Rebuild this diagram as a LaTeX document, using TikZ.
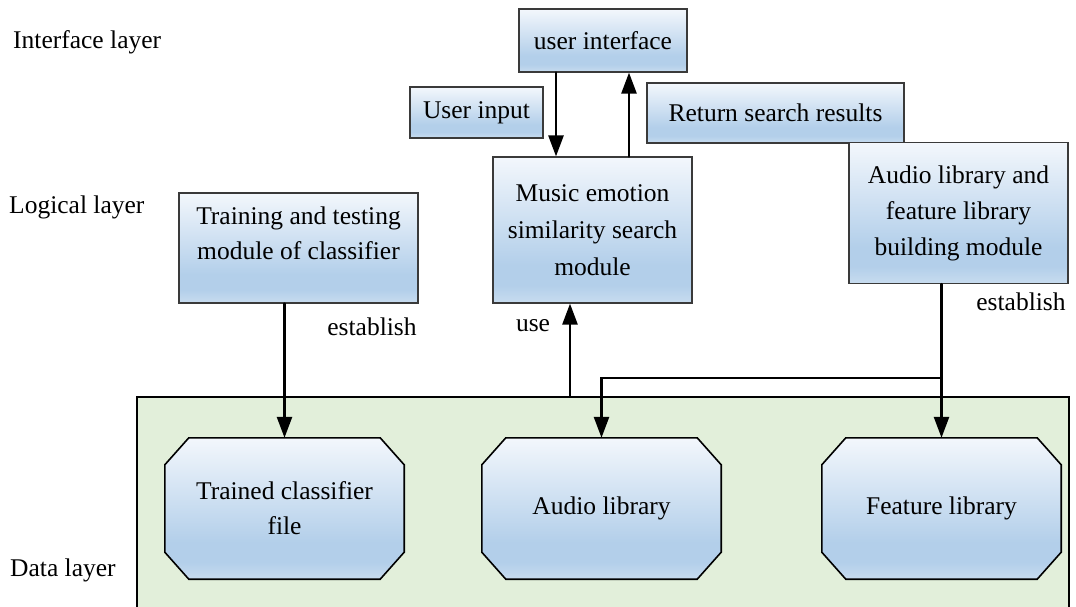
\documentclass[tikz,border=0pt]{standalone}
\usepackage{fontspec}
\setmainfont{Liberation Serif}
\usetikzlibrary{arrows.meta,calc,backgrounds}

\definecolor{boxtop}{HTML}{F3F7FC}
\definecolor{boxblue}{HTML}{B3CFEA}
\definecolor{boxlow}{HTML}{C8DCEF}
\definecolor{datagreen}{HTML}{E2EFDA}
\definecolor{edgegray}{HTML}{3A3A3A}

% light-to-blue vertical gradient used by every module box
\pgfdeclareverticalshading{modshade}{100bp}{%
  color(0bp)=(boxlow); color(25bp)=(boxlow); color(31bp)=(boxblue);
  color(38bp)=(boxblue); color(75bp)=(boxtop); color(100bp)=(boxtop)}

\tikzset{
  lbl/.style={font=\fontsize{25.5}{35}\selectfont, inner sep=0pt},
  mod/.style={draw=edgegray, line width=1.2pt, shading=modshade,
    font=\fontsize{25.5}{35}\selectfont, align=center, inner sep=2pt},
  store/.style={font=\fontsize{25.5}{35}\selectfont, align=center,
    minimum width=239pt, minimum height=141pt, inner sep=0pt},
  octfill/.style={draw=black, line width=1.6pt, shading=modshade},
  arr/.style={line width=2.6pt, line cap=round,
    -{Triangle[width=15pt,length=21pt]}},
}

\begin{document}
\begin{tikzpicture}[x=1pt,y=-1pt]
\useasboundingbox (0,0) rectangle (1076,606);

% layer captions
\node[lbl, anchor=base west] (capI) at (13,48) {Interface layer};
\node[lbl, anchor=base west] (capL) at (9,213) {Logical layer};
\node[lbl, anchor=base west] (capD) at (10,576) {Data layer};

% interface and logical modules
\node[mod, minimum width=168pt, minimum height=63pt] (ui) at (603,40.5) {user interface};
\node[mod, minimum width=133pt, minimum height=51pt] (uin) at (476.5,112.5) {User input};
\node[mod, minimum width=257pt, minimum height=60pt] (ret) at (775.5,113) {Return search results};
\node[mod, minimum width=199pt, minimum height=146pt,
  font=\fontsize{25.5}{37}\selectfont] (mus) at (592.5,230)
  {Music emotion\\similarity search\\module};
\node[mod, minimum width=239pt, minimum height=110pt] (trn) at (298.5,248) {};
\node[lbl, align=center] (trntext) at (298.5,233)
  {Training and testing\\module of classifier};
\node[mod, minimum width=219pt, minimum height=141pt,
  font=\fontsize{25.5}{36}\selectfont] (bld) at (958.5,213)
  {Audio library and\\feature library\\building module};

% data stores: octagonal outlines behind their labels
\node[store] (tcf) at (284.5,508.5) {Trained classifier\\file};
\node[store] (aud) at (601.5,508.5) {Audio library};
\node[store] (fea) at (941.5,508.5) {Feature library};
\begin{scope}[on background layer]
  % data layer container (runs off the lower edge)
  \path[draw=black, line width=1.4pt, fill=datagreen]
    (137,640) -- (137,397) -- (1069,397) -- (1069,640);
  \foreach \s in {tcf,aud,fea}{
    \path[octfill]
      ($(\s.north west)+(24,0)$) -- ($(\s.north east)+(-24,0)$) --
      ($(\s.north east)+(0,27)$) -- ($(\s.south east)+(0,-27)$) --
      ($(\s.south east)+(-24,0)$) -- ($(\s.south west)+(24,0)$) --
      ($(\s.south west)+(0,-27)$) -- ($(\s.north west)+(0,27)$) -- cycle;
  }
\end{scope}

% connectors
\draw[arr] ([xshift=-47pt]ui.south) -- ([xshift=-47pt]ui.south |- mus.north);
\draw[arr] ([xshift=26pt]ui.south |- mus.north) -- ([xshift=26pt]ui.south);
\draw[arr] (tcf.north |- trn.south) -- (tcf.north);
\coordinate (usefoot) at (555,397);
\draw[arr] (usefoot) -- ++(15,0) coordinate (usecorner) -- (usecorner |- mus.south);
\coordinate (branch) at (941.5,378);
\draw[arr] (fea.north |- bld.south) -- (fea.north);
\draw[arr] (branch) -| (aud.north);

% connector captions
\node[lbl, anchor=base] (est1) at (372,335) {establish};
\node[lbl, anchor=base] (use) at (533,331) {use};
\node[lbl, anchor=base] (est2) at (1021,310) {establish};
\end{tikzpicture}
\end{document}
